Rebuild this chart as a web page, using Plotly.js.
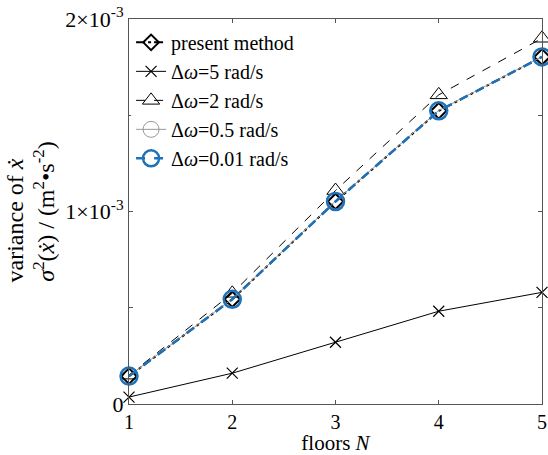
<!DOCTYPE html>
<html><head><meta charset="utf-8">
<script src="https://cdn.plot.ly/plotly-3.0.1.min.js"></script>
<style>html,body{margin:0;padding:0;background:#fff}#plot{width:548px;height:455px}</style>
</head><body><div id="plot"></div>
<script>
const floors = [1, 2, 3, 4, 5];
const presentMethod = [0.145e-3, 0.544e-3, 1.052e-3, 1.523e-3, 1.803e-3];
const dw5 = [0.036e-3, 0.160e-3, 0.321e-3, 0.482e-3, 0.580e-3];
const dw2 = [0.150e-3, 0.575e-3, 1.109e-3, 1.606e-3, 1.900e-3];
const dw05 = [0.146e-3, 0.546e-3, 1.054e-3, 1.525e-3, 1.805e-3];
const dw001 = [0.145e-3, 0.544e-3, 1.052e-3, 1.523e-3, 1.803e-3];
const yTickVals = [0, 0.5e-3, 1e-3, 1.5e-3, 2e-3];
const yTickText = ['0', '', '1×10<sup>-3</sup>', '', '2×10<sup>-3</sup>'];
const xTickVals = [1, 2, 3, 4, 5];

const traces = [
  {x: floors, y: presentMethod, name: 'present method', mode: 'lines+markers',
   line: {color: '#000', width: 2, dash: 'dashdot'},
   marker: {symbol: 'diamond-open', size: 12, color: '#000', line: {width: 2, color: '#000'}}},
  {x: floors, y: dw5, name: 'Δ<i>ω</i>=5 rad/s', mode: 'lines+markers',
   line: {color: '#000', width: 1},
   marker: {symbol: 'x-thin-open', size: 11, color: '#000', line: {width: 1.2, color: '#000'}}},
  {x: floors, y: dw2, name: 'Δ<i>ω</i>=2 rad/s', mode: 'lines+markers',
   line: {color: '#000', width: 1, dash: 'dash'},
   marker: {symbol: 'triangle-up-open', size: 15, color: '#000', line: {width: 1, color: '#000'}}},
  {x: floors, y: dw05, name: 'Δ<i>ω</i>=0.5 rad/s', mode: 'lines+markers',
   line: {color: '#999', width: 1},
   marker: {symbol: 'circle-open', size: 16, color: '#999', line: {width: 1, color: '#999'}}},
  {x: floors, y: dw001, name: 'Δ<i>ω</i>=0.01 rad/s', mode: 'lines+markers',
   line: {color: '#1f72b8', width: 2.5, dash: 'dash'},
   marker: {symbol: 'circle-open', size: 17, color: '#1f72b8', line: {width: 2.5, color: '#1f72b8'}}}
];
traces.forEach(t => t.cliponaxis = false);

const layout = {
  width: 548, height: 455,
  margin: {l: 129, r: 6, t: 19, b: 51},
  paper_bgcolor: '#fff', plot_bgcolor: '#fff',
  font: {family: 'Liberation Serif, Times New Roman, serif', size: 20, color: '#000'},
  showlegend: true,
  legend: {x: 0.005, y: 0.99, xanchor: 'left', yanchor: 'top', bgcolor: 'rgba(255,255,255,0.9)',
           borderwidth: 0, font: {size: 20, family: 'Liberation Serif, serif'}, tracegroupgap: 0, itemwidth: 30},
  xaxis: {range: [1, 5], tickvals: xTickVals, ticks: 'inside', ticklen: 4, tickcolor: '#555',
          showline: true, linecolor: '#555', linewidth: 1, mirror: 'ticks', showgrid: false, zeroline: false,
          tickfont: {size: 20},
          title: {text: 'floors <i>N</i>', standoff: 7, font: {size: 21}}},
  yaxis: {range: [0, 2e-3], tickvals: yTickVals, ticktext: yTickText, ticks: 'inside', ticklen: 4, tickcolor: '#555',
          showline: true, linecolor: '#555', linewidth: 1, mirror: 'ticks', showgrid: false, zeroline: false,
          tickfont: {size: 22},
          title: {text: 'variance of <i>ẋ</i>\u00a0\u00a0\u00a0<br><i>σ</i><sup>2</sup>(<i>ẋ</i>) / (m<sup>2</sup>•s<sup>-2</sup>)\u00a0\u00a0', standoff: 3, font: {size: 24}}}
};
Plotly.newPlot('plot', traces, layout, {displayModeBar: false, staticPlot: true});
</script></body></html>
